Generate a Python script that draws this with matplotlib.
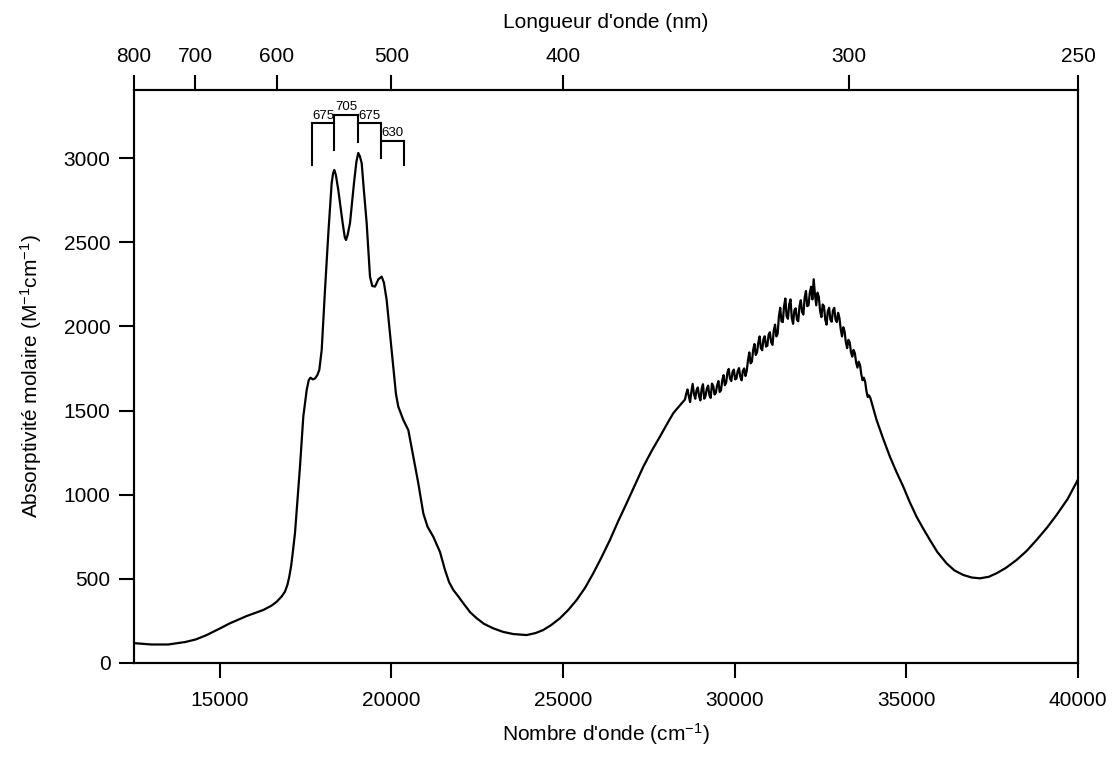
import matplotlib
matplotlib.use("Agg")
import matplotlib.pyplot as plt

plt.rcParams['font.family'] = ['Liberation Sans', 'DejaVu Sans']
plt.rcParams['mathtext.default'] = 'regular'

# ---- data: smooth low-energy part ----
wn_low = [12500, 13000, 13500, 14000, 14300, 14617, 15000, 15296, 15782, 16000, 16266, 16500,
          16657, 16800, 16898, 16970, 17024, 17080, 17123, 17190, 17260, 17335, 17432, 17531,
          17590, 17640, 17710, 17772, 17840, 17898, 17968, 18064, 18161, 18258, 18300, 18334,
          18380, 18451, 18579, 18640, 18675, 18720, 18792, 18908, 18980, 19034, 19080, 19133,
          19200, 19278, 19375, 19440, 19520, 19620, 19715, 19780, 19860, 19960, 20053, 20130,
          20199, 20345, 20491, 20636, 20782, 20928, 21050, 21219, 21413, 21559, 21680, 21801,
          21950, 22092, 22300, 22482, 22700, 22966, 23250, 23549, 23938, 24200, 24423, 24650,
          24909, 25150, 25394, 25650, 25879, 26100, 26365, 26600, 26850, 27100, 27336, 27580,
          27822, 28000, 28210, 28400]
eps_low = [118, 110, 110, 125, 140, 166, 205, 236, 279, 295, 315, 340,
           364, 395, 424, 465, 513, 580, 652, 772, 960, 1166, 1464, 1622,
           1680, 1695, 1685, 1690, 1710, 1741, 1860, 2216, 2553, 2850, 2910, 2929,
           2900, 2810, 2613, 2530, 2513, 2540, 2613, 2850, 2980, 3030, 3010, 2969,
           2800, 2613, 2295, 2240, 2236, 2280, 2295, 2260, 2157, 1950, 1761, 1600,
           1523, 1444, 1384, 1226, 1068, 889, 810, 750, 660, 553, 480, 434,
           395, 355, 300, 266, 232, 206, 185, 172, 166, 178, 196, 225,
           266, 315, 374, 450, 533, 620, 731, 840, 949, 1060, 1166, 1260,
           1345, 1410, 1484, 1530]

# ---- data: noisy UV band ----
wn_mid = [28550, 28587, 28625, 28662, 28700, 28737, 28775, 28812, 28850, 28887, 28925, 28962,
          29000, 29037, 29075, 29112, 29150, 29187, 29225, 29262, 29300, 29337, 29375, 29412,
          29450, 29487, 29525, 29562, 29600, 29637, 29675, 29712, 29750, 29787, 29825, 29862,
          29900, 29937, 29975, 30012, 30050, 30087, 30125, 30162, 30200, 30237, 30275, 30312,
          30350, 30387, 30425, 30462, 30500, 30537, 30575, 30612, 30650, 30687, 30725, 30762,
          30800, 30837, 30875, 30912, 30950, 30987, 31025, 31062, 31100, 31137, 31175, 31212,
          31250, 31287, 31325, 31362, 31400, 31437, 31475, 31512, 31550, 31587, 31625, 31662,
          31700, 31737, 31775, 31812, 31850, 31887, 31925, 31962, 32000, 32037, 32075, 32112,
          32150, 32187, 32225, 32262, 32300, 32337, 32375, 32412, 32450, 32487, 32525, 32562,
          32600, 32637, 32675, 32712, 32750, 32787, 32825, 32862, 32900, 32937, 32975, 33012,
          33050, 33087, 33125, 33162, 33200, 33237, 33275, 33312, 33350, 33387, 33425, 33462,
          33500, 33537, 33575, 33612, 33650, 33687, 33725, 33762, 33800, 33837, 33875, 33912,
          33950]
eps_mid = [1565, 1600, 1625, 1585, 1550, 1612, 1658, 1598, 1570, 1620, 1637, 1585,
           1560, 1630, 1656, 1570, 1587, 1630, 1648, 1590, 1575, 1660, 1645, 1595,
           1605, 1650, 1675, 1610, 1620, 1680, 1710, 1650, 1665, 1725, 1747, 1690,
           1675, 1730, 1743, 1685, 1690, 1735, 1752, 1700, 1679, 1735, 1750, 1705,
           1735, 1800, 1845, 1780, 1790, 1860, 1895, 1830, 1845, 1905, 1940, 1870,
           1858, 1925, 1941, 1880, 1885, 1950, 1965, 1905, 1890, 1975, 2010, 1940,
           1955, 2060, 2110, 2030, 2025, 2120, 2165, 2060, 2045, 2130, 2160, 2050,
           2015, 2095, 2107, 2040, 2030, 2120, 2155, 2085, 2070, 2170, 2210, 2120,
           2125, 2200, 2235, 2160, 2280, 2190, 2125, 2200, 2175, 2090, 2055, 2130,
           2120, 2040, 2010, 2090, 2110, 2040, 2027, 2095, 2110, 2040, 2025, 2080,
           2050, 1985, 1940, 1995, 1970, 1905, 1870, 1920, 1905, 1845, 1820, 1860,
           1840, 1785, 1755, 1790, 1770, 1715, 1680, 1695, 1670, 1615, 1580, 1590,
           1575]

# ---- data: high-energy part ----
wn_high = [34132, 34320, 34520, 34700, 34909, 35100, 35297, 35500, 35686, 35900, 36171, 36400,
           36657, 36900, 37142, 37400, 37628, 37900, 38210, 38500, 38793, 39100, 39375, 39700,
           40000]
eps_high = [1444, 1335, 1226, 1140, 1048, 955, 869, 795, 731, 660, 592, 550,
            523, 508, 503, 512, 533, 565, 612, 665, 731, 805, 879, 975,
            1090]

# ---- vibronic progression annotation ----
prog_x = [17677, 18335, 19034, 19696, 20366]
prog_bottom = [2958, 3048, 3097, 2998, 2958]
bracket_y = [3206, 3255, 3206, 3101]
bracket_labels = ['675', '705', '675', '630']

# ---- axes ticks ----
x_ticks = [15000, 20000, 25000, 30000, 35000, 40000]
y_ticks = [0, 500, 1000, 1500, 2000, 2500, 3000]
nm_ticks = [800, 700, 600, 500, 400, 300, 250]

wn = wn_low + wn_mid + wn_high
eps = eps_low + eps_mid + eps_high

FS = 15
fig = plt.figure(figsize=(11.12, 7.59), dpi=100)
ax = fig.add_axes([134/1112, 1 - 663/759, 944/1112, 573/759])
ax.plot(wn, eps, color='black', lw=1.6)

ax.set_xlim(12500, 40000)
ax.set_ylim(0, 3404)
ax.set_xticks(x_ticks)
ax.set_yticks(y_ticks)
ax.tick_params(axis='both', direction='out', length=11, width=1.5, labelsize=FS, pad=6)
ax.tick_params(axis='x', pad=9)
ax.tick_params(axis='y', right=False)
for s in ax.spines.values():
    s.set_linewidth(1.5)
ax.set_xlabel("Nombre d'onde (cm$^{-1}$)", fontsize=FS, labelpad=8)
ax.set_ylabel("Absorptivité molaire (M$^{-1}$cm$^{-1}$)", fontsize=FS, labelpad=14)

# top wavelength axis
ax2 = ax.twiny()
ax2.set_xlim(ax.get_xlim())
ax2.set_xticks([1e7 / n for n in nm_ticks])
ax2.set_xticklabels([str(n) for n in nm_ticks])
ax2.tick_params(axis='x', direction='out', length=11, width=1.5, labelsize=FS, pad=6)
ax2.set_xlabel("Longueur d'onde (nm)", fontsize=FS, labelpad=14)
for s in ax2.spines.values():
    s.set_linewidth(1.5)

# progression brackets
for i in range(len(bracket_y)):
    x0, x1 = prog_x[i], prog_x[i + 1]
    ax.plot([x0, x1], [bracket_y[i], bracket_y[i]], color='black', lw=1.5)
    ax.text((x0 + x1) / 2, bracket_y[i] + 10, bracket_labels[i], ha='center', va='bottom',
            fontsize=9.5)
tops = [bracket_y[0], max(bracket_y[0], bracket_y[1]), max(bracket_y[1], bracket_y[2]),
        max(bracket_y[2], bracket_y[3]), bracket_y[3]]
for x, b, t in zip(prog_x, prog_bottom, tops):
    ax.plot([x, x], [b, t], color='black', lw=1.5)

fig.savefig('out.png', dpi=100)
